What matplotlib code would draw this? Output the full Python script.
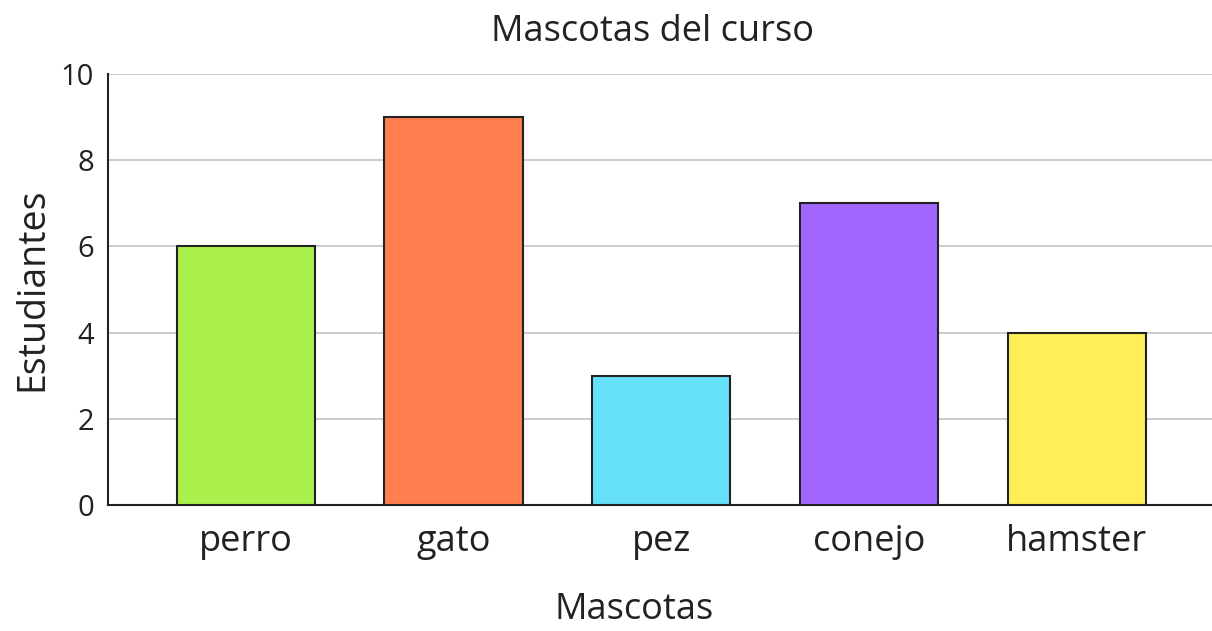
import matplotlib.pyplot as plt
import numpy as np

plt.rcParams['font.family'] = ['Open Sans', 'DejaVu Sans']

mascotas = ["perro", "gato", "pez", "conejo", "hamster"]
estudiantes = [6, 9, 3, 7, 4]
colores = ["#a9f04c", "#ff7f50", "#66e0fa", "#a066ff", "#ffee58"]

fig = plt.figure(figsize=(12.12, 6.31), dpi=100)
ax = fig.add_axes([0.0891, 0.1997, 0.9109, 0.683])

x = np.arange(len(mascotas))
ax.bar(x, estudiantes, width=0.665, color=colores, edgecolor="#222222", linewidth=1.5, zorder=3)

ax.set_xlim(-0.663, 4.65)
ax.set_ylim(0, 10)
ax.set_yticks([0, 2, 4, 6, 8, 10])
ax.set_xticks(x)
ax.set_xticklabels(mascotas, fontsize=26)
ax.tick_params(axis="y", labelsize=21, length=0, pad=10, labelcolor="#222222")
ax.tick_params(axis="x", length=0, pad=14, labelcolor="#222222")
ax.grid(axis="y", color="#c8c8c8", linewidth=1.3, zorder=0)

for s in ["top", "right"]:
    ax.spines[s].set_visible(False)
for s in ["left", "bottom"]:
    ax.spines[s].set_linewidth(1.5)
    ax.spines[s].set_color("#222222")

ax.set_title("Mascotas del curso", fontsize=26, pad=24, color="#222222", x=0.493)
ax.set_xlabel("Mascotas", fontsize=26, labelpad=23, color="#222222", x=0.477)
ax.set_ylabel("Estudiantes", fontsize=27, labelpad=7, color="#222222")

fig.savefig("out.png", dpi=100)
